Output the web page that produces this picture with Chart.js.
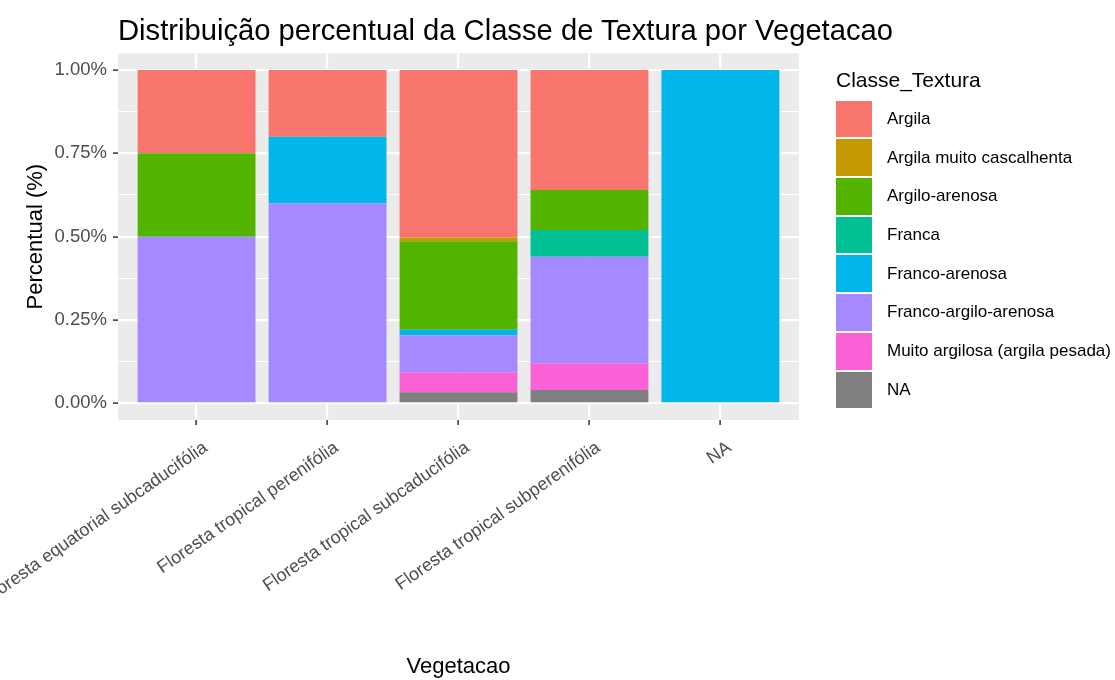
<!DOCTYPE html>
<html>
<head>
<meta charset="utf-8">
<script src="https://cdn.jsdelivr.net/npm/chart.js@4.4.1/dist/chart.umd.min.js"></script>
<style>
  body { margin: 0; background: #fff; font-family: "Liberation Sans", Arial, sans-serif; }
  #wrap { position: relative; width: 1115px; height: 680px; overflow: hidden; }
  #grafico { display: block; }
  #titulo { position: absolute; left: 118px; top: 16px; font-size: 29.2px; line-height: 29.2px; color: #000; white-space: nowrap; }
  #legenda { position: absolute; left: 836px; top: 69px; }
  #legenda .tit { font-size: 21px; line-height: 21px; color: #000; height: 31.7px; }
  #legenda .linha { display: flex; align-items: center; height: 36.7px; margin-bottom: 2px; }
  #legenda .caixa { width: 36px; height: 36.7px; margin-right: 15px; }
  #legenda .rot { font-size: 17px; color: #000; white-space: nowrap; }
</style>
</head>
<body>
<div id="wrap">
  <canvas id="grafico" width="1115" height="680"></canvas>
  <div id="titulo">Distribuição percentual da Classe de Textura por Vegetacao</div>
  <div id="legenda"></div>
</div>
<script>
const categorias = [
  'Floresta equatorial subcaducifólia',
  'Floresta tropical perenifólia',
  'Floresta tropical subcaducifólia',
  'Floresta tropical subperenifólia',
  'NA'
];

// proporções por vegetação
const argila = [0.25, 0.20, 0.503, 0.36, 0];
const argilaMuitoCascalhenta = [0, 0, 0.011, 0, 0];
const argiloArenosa = [0.25, 0, 0.265, 0.12, 0];
const franca = [0, 0, 0, 0.08, 0];
const francoArenosa = [0, 0.20, 0.017, 0, 1.0];
const francoArgiloArenosa = [0.50, 0.60, 0.111, 0.32, 0];
const muitoArgilosa = [0, 0, 0.060, 0.08, 0];
const semClasse = [0, 0, 0.033, 0.04, 0];

const yTickValues = [0, 0.25, 0.5, 0.75, 1];
const yTickLabels = ['0.00%', '0.25%', '0.50%', '0.75%', '1.00%'];
const yMinorTicks = [0.125, 0.375, 0.625, 0.875];

const series = [
  { nome: 'Argila', cor: '#F8766D', valores: argila },
  { nome: 'Argila muito cascalhenta', cor: '#C49A00', valores: argilaMuitoCascalhenta },
  { nome: 'Argilo-arenosa', cor: '#53B400', valores: argiloArenosa },
  { nome: 'Franca', cor: '#00C094', valores: franca },
  { nome: 'Franco-arenosa', cor: '#00B6EB', valores: francoArenosa },
  { nome: 'Franco-argilo-arenosa', cor: '#A58AFF', valores: francoArgiloArenosa },
  { nome: 'Muito argilosa (argila pesada)', cor: '#FB61D7', valores: muitoArgilosa },
  { nome: 'NA', cor: '#7F7F7F', valores: semClasse }
];

const fonte = '"Liberation Sans", Arial, sans-serif';
Chart.defaults.font.family = fonte;

// fundo cinza do painel (estilo ggplot)
const fundoPainel = {
  id: 'fundoPainel',
  beforeDraw(chart) {
    const { ctx, chartArea: a } = chart;
    ctx.save();
    ctx.fillStyle = '#EBEBEB';
    ctx.fillRect(a.left, a.top, a.right - a.left, a.bottom - a.top);
    ctx.restore();
  }
};

const ehMaior = v => yTickValues.includes(v);

// empilhamento: primeiro dataset fica embaixo, então inverte a ordem
const datasets = series.slice().reverse().map(s => ({
  label: s.nome,
  data: s.valores.map((v, i) => ({ x: i, y: v })),
  backgroundColor: s.cor,
  borderWidth: 0,
  categoryPercentage: 0.9,
  barPercentage: 1
}));

new Chart(document.getElementById('grafico').getContext('2d'), {
  type: 'bar',
  data: { datasets },
  plugins: [fundoPainel],
  options: {
    responsive: false,
    maintainAspectRatio: false,
    animation: false,
    layout: { padding: { top: 53.3, right: 316, left: 0, bottom: 0 } },
    plugins: { legend: { display: false }, tooltip: { enabled: false } },
    scales: {
      x: {
        type: 'linear',
        stacked: true,
        offset: false,
        min: -0.6,
        max: 4.6,
        afterBuildTicks: s => { s.ticks = categorias.map((c, i) => ({ value: i })); },
        afterFit: s => { s.height = 260; s.paddingLeft = 0; s.paddingRight = 0; },
        grid: { offset: false, color: '#ffffff', lineWidth: 2.2, tickColor: '#333333', tickLength: 5, tickWidth: 1.5 },
        border: { display: false },
        ticks: {
          autoSkip: false,
          minRotation: 35,
          maxRotation: 35,
          padding: 12,
          labelOffset: 9,
          color: '#4D4D4D',
          font: { size: 18 },
          callback: v => categorias[v]
        },
        title: { display: true, text: 'Vegetacao', color: '#000', font: { size: 22 }, padding: { top: 0, bottom: 0 } }
      },
      y: {
        stacked: true,
        min: -0.05,
        max: 1.05,
        afterBuildTicks: s => {
          s.ticks = yTickValues.concat(yMinorTicks).sort((a, b) => a - b).map(v => ({ value: v }));
        },
        afterFit: s => { s.width = 118; s.paddingTop = 0; s.paddingBottom = 0; },
        grid: {
          color: '#ffffff',
          lineWidth: c => ehMaior(c.tick.value) ? 2.2 : 1.1,
          tickColor: c => ehMaior(c.tick.value) ? '#333333' : 'rgba(0,0,0,0)',
          tickLength: 5,
          tickWidth: 1.5
        },
        border: { display: false },
        ticks: {
          padding: 6,
          color: '#4D4D4D',
          font: { size: 18.5 },
          callback: v => {
            const i = yTickValues.indexOf(v);
            return i >= 0 ? yTickLabels[i] : '';
          }
        },
        title: { display: true, text: 'Percentual (%)', color: '#000', font: { size: 22 }, padding: { top: 23, bottom: 0 } }
      }
    }
  }
});

// legenda
const legenda = document.getElementById('legenda');
const tit = document.createElement('div');
tit.className = 'tit';
tit.textContent = 'Classe_Textura';
legenda.appendChild(tit);
series.forEach(s => {
  const linha = document.createElement('div');
  linha.className = 'linha';
  const caixa = document.createElement('div');
  caixa.className = 'caixa';
  caixa.style.backgroundColor = s.cor;
  const rot = document.createElement('div');
  rot.className = 'rot';
  rot.textContent = s.nome;
  linha.appendChild(caixa);
  linha.appendChild(rot);
  legenda.appendChild(linha);
});
</script>
</body>
</html>
